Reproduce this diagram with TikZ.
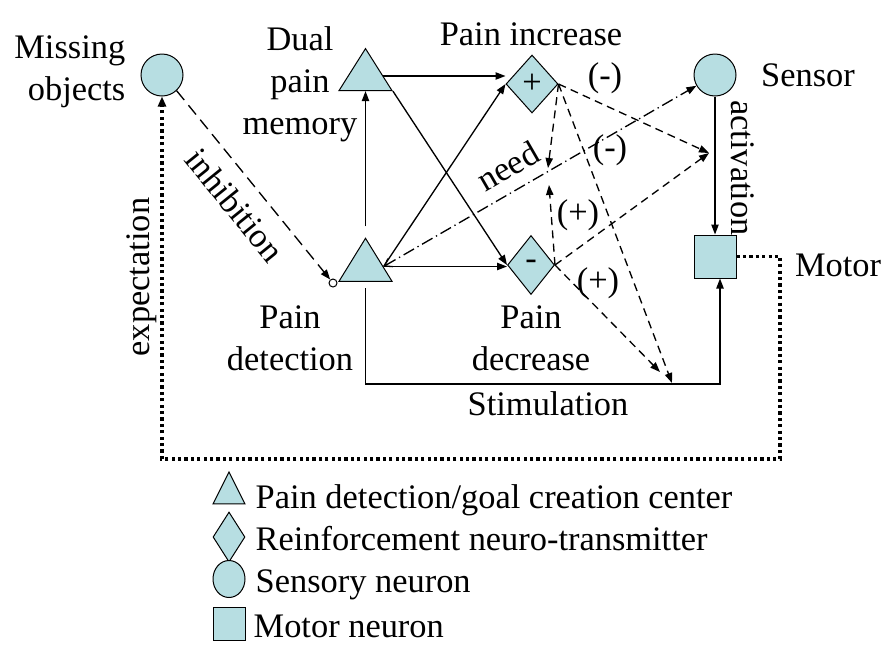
\documentclass[tikz,border=0pt]{standalone}
\usepackage{fontspec}
\setmainfont{Liberation Serif}
\usetikzlibrary{shapes.geometric,arrows.meta}
\definecolor{cellfill}{RGB}{183,222,226}

\begin{document}
\begin{tikzpicture}[x=0.75pt,y=0.75pt,yscale=-1,xscale=1,
  every node/.style={font=\fontsize{25.8}{31.5}\selectfont},
  cell/.style={draw, fill=cellfill, line width=0.75pt, inner sep=0pt},
  tri/.style={cell, shape=isosceles triangle, shape border rotate=90, isosceles triangle stretches},
  dia/.style={cell, shape=diamond},
  neuron/.style={cell, circle},
  motorbox/.style={cell, rectangle},
  link/.style={line width=1pt, -{Triangle[length=7.5pt,width=5.5pt]}},
  dashlink/.style={link, dash pattern=on 6pt off 4pt},
  inhlink/.style={link, dash pattern=on 9pt off 5pt},
  needlink/.style={line width=1pt, {Straight Barb[length=5pt,width=7pt]}-{Triangle[length=7.5pt,width=5.5pt]}, dash pattern=on 9pt off 3pt on 1pt off 3pt},
  explink/.style={line width=2.4pt, dash pattern=on 2.4pt off 2.4pt, -{Triangle[length=7.5pt,width=6pt]}}
]
\useasboundingbox (0,0) rectangle (895,654);

% Neurons
\node [neuron, minimum size=31.5pt] (miss) at (162,75) {};
\node [tri, minimum width=39.75pt, minimum height=31.5pt] (dual) at (365.5,76) {};
\node [tri, minimum width=39.75pt, minimum height=32.25pt] (pdet) at (365.5,266.5) {};
\node [dia, minimum width=39pt, minimum height=43.5pt] (pinc) at (532,84) {+};
\node [dia, minimum width=35.25pt, minimum height=44.25pt] (pdec) at (531,265) {-};
\node [neuron, minimum size=31.5pt] (sens) at (715,75) {};
\node [motorbox, minimum width=31.5pt, minimum height=32.25pt] (motor) at (715,256.5) {};
\node [circle, draw, fill=white, line width=0.75pt, inner sep=0pt, minimum size=6pt] (inh) at (333,283) {};

% Junction points
\coordinate (act) at (709,153);
\coordinate (needtop) at (548,168);
\coordinate (needbot) at (549,185);
\coordinate (stima) at (660,372);
\coordinate (stimb) at (672,383);
\coordinate (stimc) at (720,384);
\coordinate (expc) at (780,459);

% Solid connectors
\draw [link] (dual.east) -- (dual.east -| pinc.west);
\draw [link] (dual.right corner) -- (pdec.west);
\draw [link] (pdet.east) -- (pinc.west);
\draw [link] (pdet.east) -- (pdet.east -| pdec.west);
\draw [link, shorten <=8pt] (pdet.apex) -- (dual.south);
\draw [link] (sens.south) -- (motor.north);
\draw [link, shorten <=5pt] (pdet.south) |- (stimc) -- (stimc |- motor.south);

% Dashed connectors
\draw [dashlink] (pinc.east) -- (act);
\draw [dashlink] (pinc.east) -- (needtop);
\draw [dashlink] (pinc.east) -- (stimb);
\draw [dashlink] (pdec.east) -- (act);
\draw [dashlink] (pdec.east) -- (needbot);
\draw [dashlink] (pdec.east) -- (stima);
\draw [inhlink] (miss.-47) -- (inh);
\draw [needlink] (pdet.east) -- (sens);
\draw [explink] (motor.east) -| (expc) -| (miss.south);

% Text Node
\node [align=right, anchor=east] (misslbl) at (130,72) {Missing\\objects};
\node [align=center] (duallbl) at (300,84) {Dual\\pain\\memory};
\node (inclbl) at (531,34) {Pain increase};
\node (senslbl) at (808,75) {Sensor};
\node (motorlbl) at (838,265) {Motor};
\node [align=center] (pdetlbl) at (290,338) {Pain\\detection};
\node [align=center] (pdeclbl) at (531,338) {Pain\\decrease};
\node (stimlbl) at (548,404) {Stimulation};
\node (signa) at (605,78) {(-)};
\node (signb) at (610,150) {(-)};
\node (signc) at (578,215) {(+)};
\node (signd) at (598,283) {(+)};
\node [rotate=-51] (inhlbl) at (235,205) {inhibition};
\node [rotate=30] (needlbl) at (508,166) {need};
\node [rotate=-90] (actlbl) at (743,168) {activation};
\node [rotate=90] (explbl) at (142,277) {expectation};

% Legend
\node [tri, minimum width=24pt, minimum height=24pt] (keytri) at (229,494) {};
\node [dia, minimum width=24pt, minimum height=37.5pt] (keydia) at (229,537) {};
\node [cell, ellipse, minimum width=24pt, minimum height=27.75pt] (keycirc) at (229,579) {};
\node [motorbox, minimum width=24pt, minimum height=24.75pt] (keybox) at (229,623.5) {};
\node [anchor=base west] (keytrilbl) at (251,508) {Pain detection/goal creation center};
\node [anchor=base west] (keydialbl) at (251,550) {Reinforcement neuro-transmitter};
\node [anchor=base west] (keycirclbl) at (251,592) {Sensory neuron};
\node [anchor=base west] (keyboxlbl) at (249,637) {Motor neuron};

\end{tikzpicture}
\end{document}
